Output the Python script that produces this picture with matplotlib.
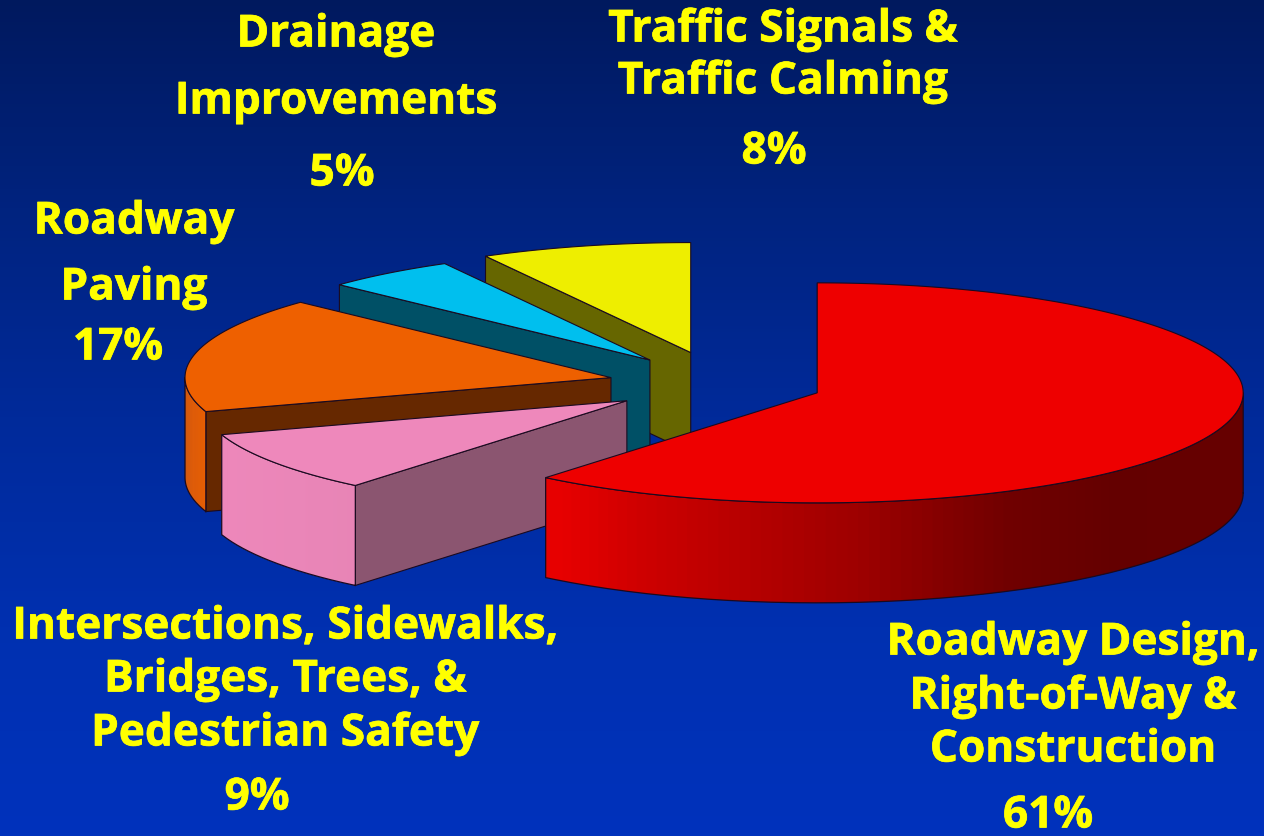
import numpy as np
import matplotlib
matplotlib.use('Agg')
import matplotlib.pyplot as plt
import matplotlib.patheffects as pe
from matplotlib.collections import PolyCollection
from matplotlib.colors import LinearSegmentedColormap, to_rgb

# slices go clockwise from 12 o'clock
names = ['Roadway Design', 'Intersections', 'Roadway Paving', 'Drainage', 'Traffic Signals']
values = [61, 9, 17, 5, 8]
explode = [0.2375, 0.27, 0.267, 0.276, 0.295]
top_colors = ['#ee0000', '#ee88bb', '#ee6000', '#00bfee', '#eeee00']
cut_colors = ['#660000', '#8b5570', '#662800', '#005066', '#666600']

bg_colors = ['#00195e', '#00237f', '#002a9a', '#0030b0', '#0032bc']

label_lines = [
    ['Roadway Design,', 'Right-of-Way &', 'Construction'],
    ['Intersections, Sidewalks,', 'Bridges, Trees, &', 'Pedestrian Safety'],
    ['Roadway', 'Paving'],
    ['Drainage', 'Improvements'],
    ['Traffic Signals &', 'Traffic Calming'],
]
label_x = [1073, 285, 134, 336, 783]
label_y = [[644, 698, 751], [628, 681, 735], [223, 289], [36, 103], [31, 83]]
pct_x = [1048, 257, 118, 342, 774]
pct_y = [817, 799, 349, 175, 153]

cx, cy = 722, 385
rx, ry = 426, 110
depth = 100

fig = plt.figure(figsize=(12.64, 8.37), dpi=100)
ax = fig.add_axes([0, 0, 1, 1])
ax.set_xlim(0, 1264)
ax.set_ylim(837, 0)
ax.axis('off')

cmap = LinearSegmentedColormap.from_list('bg', bg_colors)
ax.imshow(np.linspace(0, 1, 256).reshape(-1, 1), cmap=cmap, aspect='auto',
          extent=[0, 1264, 837, 0], zorder=0)


def rim(x0, y0, angles):
    return x0 + rx * np.sin(angles), y0 - ry * np.cos(angles)


def wall_shade(angles):
    # lit from the left, darker round to the right
    return np.interp(np.sin(angles), [-1, -0.6, -0.4, 0.1, 0.45, 0.7, 1],
                     [1.0, 0.97, 0.86, 0.66, 0.47, 0.42, 0.43])


edge = '#1a0a20'
fracs = np.cumsum([0] + values) / sum(values) * 2 * np.pi
order = [4, 3, 2, 1, 0]  # back to front

for z, i in enumerate(order):
    a0, a1 = fracs[i], fracs[i + 1]
    mid = (a0 + a1) / 2
    x0 = cx + explode[i] * rx * np.sin(mid)
    y0 = cy - explode[i] * ry * np.cos(mid)
    base = 2 + z * 3

    # cut side at the start of the slice
    ex, ey = rim(x0, y0, a0)
    ax.fill([x0, ex, ex, x0], [y0, ey, ey + depth, y0 + depth],
            facecolor=cut_colors[i], edgecolor=edge, lw=0.8, zorder=base)

    # outer wall, only the front half of the ellipse shows
    lo, hi = max(a0, np.pi / 2), min(a1, 3 * np.pi / 2)
    if hi > lo:
        t = np.linspace(lo, hi, 90)
        wx, wy = rim(x0, y0, t)
        # each strip runs under the next one so no seams show
        quads = [[(wx[k], wy[k]), (wx[min(k + 2, 89)], wy[min(k + 2, 89)]),
                  (wx[min(k + 2, 89)], wy[min(k + 2, 89)] + depth), (wx[k], wy[k] + depth)]
                 for k in range(len(t) - 1)]
        shade = wall_shade((t[:-1] + t[1:]) / 2)
        cols = [tuple(s * c for c in to_rgb(top_colors[i])) for s in shade]
        ax.add_collection(PolyCollection(quads, facecolors=cols, edgecolors='none',
                                         zorder=base + 1))
        ax.plot(np.r_[wx, wx[::-1], wx[0]],
                np.r_[wy + depth, wy[::-1], wy[0] + depth],
                color=edge, lw=0.9, zorder=base + 1)

    # top face
    t = np.linspace(a0, a1, 200)
    tx, ty = rim(x0, y0, t)
    ax.fill(np.r_[x0, tx], np.r_[y0, ty], facecolor=top_colors[i],
            edgecolor=edge, lw=0.8, zorder=base + 2)

yellow = '#ffff00'
font = 'Open Sans'
heavier = [pe.withStroke(linewidth=0.5, foreground=yellow)]
for i in range(len(values)):
    for line, y in zip(label_lines[i], label_y[i]):
        ax.text(label_x[i], y, line, color=yellow, family=font, weight='bold',
                fontsize=31.8, ha='center', va='center', zorder=30, path_effects=heavier)
    ax.text(pct_x[i], pct_y[i], f'{values[i]}%', color=yellow, family=font,
            weight='bold', fontsize=31.8, ha='center', va='center', zorder=30,
            path_effects=heavier)

fig.savefig('out.png', dpi=100)
